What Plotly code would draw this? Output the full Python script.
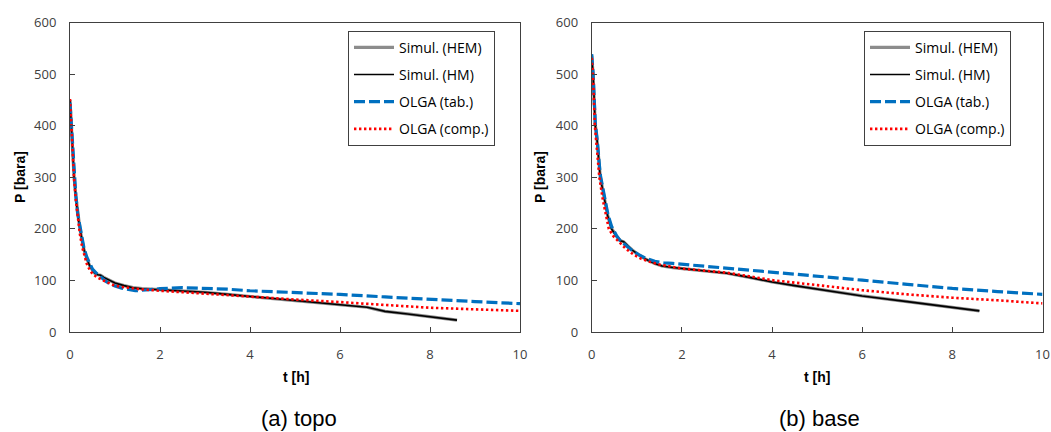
import plotly.graph_objects as go

W, H = 1051, 432

# ---- (a) topo ----
topo_hm_t = [0, 0.03, 0.06, 0.09, 0.13, 0.17, 0.22, 0.27, 0.31, 0.37, 0.44, 0.5, 0.55, 0.62, 0.68,
             0.75, 0.85, 1.0, 1.2, 1.4, 1.6, 2.0, 2.5, 3.0, 3.5, 4.0, 4.5, 5.0, 5.5, 6.0, 6.3, 6.6,
             6.8, 7.0, 7.5, 8.0, 8.3, 8.6]
topo_hm_p = [450, 395, 345, 300, 262, 228, 200, 176, 160, 143, 128, 120, 114, 111, 110,
             106, 101, 95, 90, 86, 84, 82, 80, 77, 73, 69, 65, 62, 58, 54, 51, 48,
             44, 40, 35, 30, 26, 23]
topo_hem_t = topo_hm_t
topo_hem_p = [450, 396, 346, 301, 263, 229, 201, 177, 160, 143, 128, 120, 114, 111, 110,
              106, 101, 95, 90, 86, 84, 82, 80, 77, 73, 69, 65, 62, 58, 54, 51, 48,
              44, 40, 35, 30, 26, 23]
topo_tab_t = [0, 0.03, 0.06, 0.09, 0.13, 0.17, 0.22, 0.27, 0.31, 0.37, 0.44, 0.5, 0.6, 0.7, 0.8,
              0.9, 1.0, 1.15, 1.3, 1.45, 1.6, 1.8, 2.0, 2.5, 3.0, 3.5, 4.0, 5.0, 6.0, 7.0, 8.0,
              9.0, 10.0]
topo_tab_p = [445, 398, 350, 305, 265, 230, 203, 180, 163, 146, 131, 122, 113, 105, 98,
              93, 89, 85, 82, 80, 81, 83, 84, 86, 85, 83, 80, 77, 73, 68, 63,
              59, 55]
topo_comp_t = [0, 0.03, 0.06, 0.09, 0.13, 0.17, 0.22, 0.27, 0.31, 0.37, 0.44, 0.5, 0.6, 0.74,
               0.85, 0.96, 1.1, 1.3, 1.55, 2.0, 2.5, 3.0, 3.5, 4.0, 5.0, 6.0, 7.0, 8.0, 9.0, 10.0]
topo_comp_p = [452, 400, 345, 298, 255, 220, 190, 165, 150, 133, 120, 113, 106, 100,
               95, 91, 88, 86, 83, 80, 77, 74, 71, 68, 63, 58, 52, 47, 44, 41]

# ---- (b) base ----
base_hm_t = [0, 0.03, 0.08, 0.12, 0.19, 0.29, 0.36, 0.44, 0.55, 0.64, 0.71, 0.8, 0.9, 1.04,
             1.2, 1.4, 1.56, 1.8, 2.0, 2.5, 3.0, 3.5, 4.0, 4.5, 5.0, 6.0, 7.0, 8.0, 8.6]
base_hm_p = [535, 500, 400, 371, 300, 250, 223, 200, 185, 177, 175, 167, 159, 150,
             141, 133, 128, 125, 123, 119, 114, 106, 97, 90, 83, 70, 59, 48, 41]
base_hem_t = base_hm_t
base_hem_p = [536, 501, 402, 372, 301, 251, 224, 201, 186, 177, 175, 167, 159, 150,
              141, 133, 128, 125, 123, 119, 114, 106, 97, 90, 83, 70, 59, 48, 41]
base_tab_t = [0, 0.03, 0.08, 0.12, 0.19, 0.29, 0.36, 0.44, 0.55, 0.64, 0.75, 0.9, 1.04, 1.2,
              1.4, 1.6, 1.8, 2.0, 2.5, 3.0, 4.0, 5.0, 6.0, 7.0, 8.0, 9.0, 10.0]
base_tab_p = [539, 503, 405, 374, 305, 255, 228, 205, 187, 176, 168, 158, 150, 143,
              137, 134, 133, 131.5, 127, 123, 116.7, 109, 100.6, 92.5, 84.5, 78.5, 73]
base_comp_t = [0, 0.03, 0.07, 0.11, 0.17, 0.25, 0.31, 0.38, 0.48, 0.6, 0.75, 0.93, 1.1, 1.3,
               1.5, 1.75, 2.0, 2.5, 3.0, 3.5, 4.0, 5.0, 6.0, 7.0, 8.0, 9.0, 10.0]
base_comp_p = [532, 495, 400, 360, 300, 255, 230, 200, 186, 175, 162, 150, 142, 136,
               131, 127, 123, 119, 115, 108, 100.6, 91, 81, 73, 66.5, 61.5, 55.5]

series_names = ["Simul. (HEM)", "Simul. (HM)", "OLGA (tab.)", "OLGA (comp.)"]
x_ticks = [0, 2, 4, 6, 8, 10]
y_ticks = [0, 100, 200, 300, 400, 500, 600]

styles = [
    dict(color="#8c8c8c", width=3.2),
    dict(color="#000000", width=1.6),
    dict(color="#0070C0", width=3.2, dash="11px,4px"),
    dict(color="#FF0000", width=2.6, dash="2.4px,2.6px"),
]

panels = [
    ("x", "y", "legend",
     [(topo_hem_t, topo_hem_p), (topo_hm_t, topo_hm_p), (topo_tab_t, topo_tab_p), (topo_comp_t, topo_comp_p)]),
    ("x2", "y2", "legend2",
     [(base_hem_t, base_hem_p), (base_hm_t, base_hm_p), (base_tab_t, base_tab_p), (base_comp_t, base_comp_p)]),
]

fig = go.Figure()
for xa, ya, leg, data in panels:
    for name, style, (t, p) in zip(series_names, styles, data):
        fig.add_trace(go.Scatter(
            x=t, y=p, mode="lines", name=name, line=style,
            xaxis=xa, yaxis=ya, legend=leg, legendgroup=leg + name,
        ))

tick_font = dict(family="Open Sans", size=13, color="#404040")
axis_common = dict(
    showgrid=False, zeroline=False, showline=True, linecolor="#404040", linewidth=1,
    mirror=True, ticks="inside", ticklen=5, tickcolor="#404040", tickfont=tick_font,
    ticklabelstandoff=10,
)

def px_x(v):
    return v / W

def px_y(v):
    return 1 - v / H

legend_common = dict(
    bgcolor="white", bordercolor="#404040", borderwidth=1,
    font=dict(family="Open Sans", size=14, color="#000000"),
    tracegroupgap=6, itemwidth=40, xanchor="left", yanchor="top",
)

fig.update_layout(
    width=W, height=H,
    margin=dict(l=0, r=0, t=0, b=0, autoexpand=False),
    plot_bgcolor="white", paper_bgcolor="white",
    xaxis=dict(domain=[px_x(70), px_x(520)], range=[0, 10], tickvals=x_ticks, anchor="y", **axis_common),
    yaxis=dict(domain=[px_y(332), px_y(22.7)], range=[0, 600], tickvals=y_ticks, anchor="x", **axis_common),
    xaxis2=dict(domain=[px_x(591.7), px_x(1042.5)], range=[0, 10], tickvals=x_ticks, anchor="y2", **axis_common),
    yaxis2=dict(domain=[px_y(332), px_y(22.7)], range=[0, 600], tickvals=y_ticks, anchor="x2", **axis_common),
    legend=dict(x=px_x(348), y=px_y(30.7), **legend_common),
    legend2=dict(x=px_x(864), y=px_y(30.7), **legend_common),
    showlegend=True,
)

title_font = dict(family="Liberation Sans", size=14, color="#000000")
caption_font = dict(family="Liberation Sans", size=22, color="#000000")
annotations = [
    dict(text="<b>P [bara]</b>", x=px_x(20), y=px_y(177), textangle=-90, font=title_font),
    dict(text="<b>P [bara]</b>", x=px_x(540), y=px_y(177), textangle=-90, font=title_font),
    dict(text="<b>t [h]</b>", x=px_x(295.5), y=px_y(376.7), font=title_font),
    dict(text="<b>t [h]</b>", x=px_x(817), y=px_y(376.7), font=title_font),
    dict(text="(a) topo", x=px_x(299), y=px_y(418), font=caption_font),
    dict(text="(b) base", x=px_x(819), y=px_y(418), font=caption_font),
]
for a in annotations:
    fig.add_annotation(xref="paper", yref="paper", showarrow=False,
                       xanchor="center", yanchor="middle", **a)

fig.write_html("out.html")
